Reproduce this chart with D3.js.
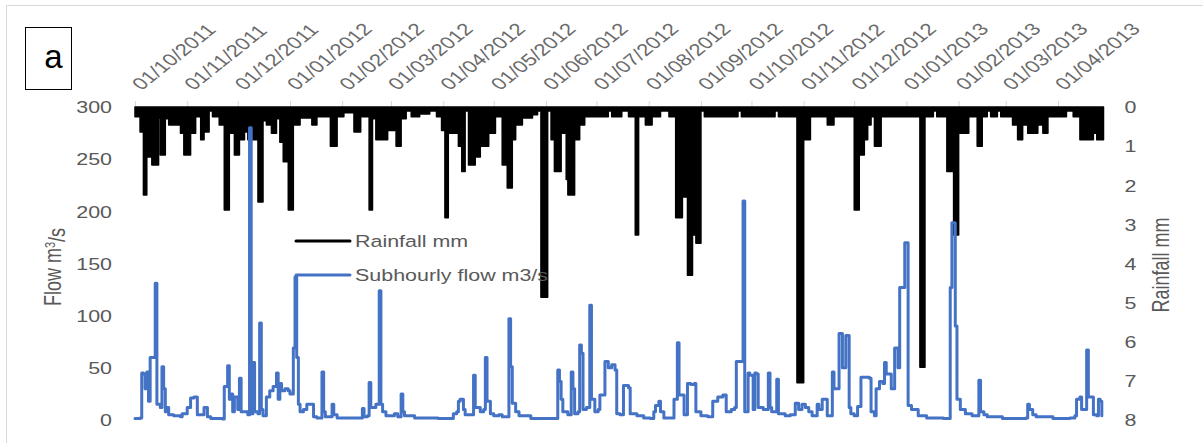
<!DOCTYPE html>
<html>
<head>
<meta charset="utf-8">
<script src="https://cdn.jsdelivr.net/npm/d3@7"></script>
<style>
  html, body { margin: 0; padding: 0; background: #fff; }
  svg { display: block; font-family: "Liberation Sans", Arial, sans-serif; }
</style>
</head>
<body>
<svg id="chart" width="1203" height="443"></svg>
<script>
// ---- Record period and axis ticks ----
const recordSpan = ["2011-10-01", "2013-04-28"];
const monthTicks = [
  "2011-10-01", "2011-11-01", "2011-12-01", "2012-01-01", "2012-02-01", "2012-03-01",
  "2012-04-01", "2012-05-01", "2012-06-01", "2012-07-01", "2012-08-01", "2012-09-01",
  "2012-10-01", "2012-11-01", "2012-12-01", "2013-01-01", "2013-02-01", "2013-03-01",
  "2013-04-01"
];
const flowTicks = [0, 50, 100, 150, 200, 250, 300];
const rainTicks = [0, 1, 2, 3, 4, 5, 6, 7, 8];
const seriesNames = ["Rainfall mm", "Subhourly flow m3/s"];

// ---- Rainfall (mm), each value holds from its date until the next entry ----
const rainfall = [
  ["2011-10-01",0.25],["2011-10-04",0.64],["2011-10-06",2.25],["2011-10-08",1.28],["2011-10-11",1.48],
  ["2011-10-15",0.28],["2011-10-16",1.23],["2011-10-19",0.3],["2011-10-21",0.46],["2011-10-28",0.67],
  ["2011-10-30",1.23],["2011-11-03",0.67],["2011-11-06",0.25],["2011-11-09",0.84],["2011-11-11",0.64],
  ["2011-11-14",0.1],["2011-11-16",0.25],["2011-11-20",0.46],["2011-11-23",2.63],["2011-11-26",0.67],
  ["2011-11-29",1.23],["2011-12-02",0.84],["2011-12-05",0.64],["2011-12-07",0.84],["2011-12-13",2.43],
  ["2011-12-16",0.35],["2011-12-18",0.46],["2011-12-21",0.67],["2011-12-24",0.3],["2011-12-26",0.9],
  ["2011-12-28",1.4],["2011-12-31",2.63],["2012-01-03",0.46],["2012-01-07",0.28],["2012-01-14",0.46],
  ["2012-01-17",0.25],["2012-01-25",1.0],["2012-01-29",0.25],["2012-02-02",0.15],["2012-02-08",0.64],
  ["2012-02-12",0.25],["2012-02-17",2.63],["2012-02-19",0.3],["2012-02-21",0.84],["2012-02-28",0.6],
  ["2012-03-04",1.0],["2012-03-07",0.3],["2012-03-10",0.1],["2012-03-13",0.25],["2012-03-18",0.18],
  ["2012-03-24",0.1],["2012-03-28",0.25],["2012-03-31",0.6],["2012-04-02",2.83],["2012-04-04",0.67],
  ["2012-04-10",1.0],["2012-04-12",1.65],["2012-04-14",0.1],["2012-04-16",1.48],["2012-04-20",1.28],
  ["2012-04-23",1.0],["2012-04-28",0.67],["2012-05-02",0.25],["2012-05-06",1.48],["2012-05-09",2.07],
  ["2012-05-12",0.84],["2012-05-14",0.46],["2012-05-18",0.28],["2012-05-24",0.2],["2012-05-27",0.1],
  ["2012-05-29",4.86],["2012-06-02",0.1],["2012-06-04",0.84],["2012-06-06",1.65],["2012-06-10",0.67],
  ["2012-06-13",1.85],["2012-06-14",2.25],["2012-06-18",0.84],["2012-06-21",0.46],["2012-06-24",0.25],
  ["2012-07-08",0.1],["2012-07-10",0.25],["2012-07-16",0.1],["2012-07-20",0.25],["2012-07-24",3.27],
  ["2012-07-26",0.25],["2012-07-30",0.46],["2012-08-03",0.25],["2012-08-08",0.1],["2012-08-13",0.25],
  ["2012-08-17",2.83],["2012-08-21",2.3],["2012-08-24",4.3],["2012-08-27",3.27],["2012-08-29",3.48],
  ["2012-09-01",0.1],["2012-09-03",0.25],["2012-09-23",0.1],["2012-09-25",0.25],["2012-10-15",0.1],
  ["2012-10-17",0.25],["2012-10-28",7.05],["2012-11-01",0.84],["2012-11-05",0.25],["2012-11-15",0.46],
  ["2012-11-19",0.25],["2012-12-01",2.63],["2012-12-04",1.23],["2012-12-07",0.84],["2012-12-09",0.46],
  ["2012-12-11",0.25],["2012-12-13",1.0],["2012-12-17",0.25],["2013-01-09",6.65],["2013-01-12",0.25],
  ["2013-01-17",0.1],["2013-01-19",0.25],["2013-01-25",1.65],["2013-01-29",3.27],["2013-02-01",0.67],
  ["2013-02-07",0.25],["2013-02-12",1.0],["2013-02-15",0.25],["2013-02-18",0.1],["2013-02-20",0.25],
  ["2013-02-24",0.1],["2013-02-26",0.25],["2013-03-05",0.46],["2013-03-08",0.84],["2013-03-11",0.46],
  ["2013-03-14",0.67],["2013-03-20",0.46],["2013-03-23",0.67],["2013-03-26",0.25],["2013-04-06",0.1],
  ["2013-04-10",0.25],["2013-04-14",0.84],["2013-04-22",0.67],["2013-04-24",0.84],["2013-04-28",0.84]
];

// ---- Flow (m3/s), each value holds from its date until the next entry ----
const flow = [
  ["2011-10-01",1.5],["2011-10-04",2],["2011-10-05",45],["2011-10-06",44],["2011-10-07",30],
  ["2011-10-08",46],["2011-10-09",18],["2011-10-10",60],["2011-10-13",131],["2011-10-14",15],
  ["2011-10-16",12],["2011-10-17",51],["2011-10-18",30],["2011-10-19",8],["2011-10-20",12],
  ["2011-10-21",5],["2011-10-24",4],["2011-10-28",3],["2011-10-29",6],["2011-11-01",12],
  ["2011-11-03",21],["2011-11-05",22],["2011-11-07",5],["2011-11-11",12],["2011-11-13",3],
  ["2011-11-15",1.5],["2011-11-22",1],["2011-11-23",32],["2011-11-25",52],["2011-11-26",20],
  ["2011-11-27",25],["2011-11-28",8],["2011-11-29",22],["2011-12-01",10],["2011-12-02",40],
  ["2011-12-03",8],["2011-12-07",5],["2011-12-08",280],["2011-12-09",6],["2011-12-10",55],
  ["2011-12-11",8],["2011-12-13",6],["2011-12-14",93],["2011-12-15",10],["2011-12-16",4],
  ["2011-12-18",22],["2011-12-20",28],["2011-12-22",32],["2011-12-24",45],["2011-12-25",20],
  ["2011-12-26",35],["2011-12-27",28],["2011-12-29",30],["2011-12-31",28],["2012-01-01",25],
  ["2012-01-03",69],["2012-01-04",137],["2012-01-05",60],["2012-01-06",15],["2012-01-07",8],
  ["2012-01-09",10],["2012-01-11",15],["2012-01-13",15],["2012-01-15",3],["2012-01-17",2],
  ["2012-01-19",2],["2012-01-20",46],["2012-01-21",8],["2012-01-22",3],["2012-01-25",3],
  ["2012-01-26",15],["2012-01-27",5],["2012-01-29",2],["2012-02-12",2],["2012-02-13",11],
  ["2012-02-14",3],["2012-02-16",4],["2012-02-17",36],["2012-02-18",12],["2012-02-21",15],
  ["2012-02-23",124],["2012-02-24",15],["2012-02-25",8],["2012-02-27",4],["2012-03-01",4],
  ["2012-03-03",6],["2012-03-05",3],["2012-03-07",25],["2012-03-08",8],["2012-03-09",4],
  ["2012-03-13",4],["2012-03-15",2],["2012-03-29",1.5],["2012-04-04",1.5],["2012-04-07",6],
  ["2012-04-09",8],["2012-04-10",18],["2012-04-11",20],["2012-04-13",10],["2012-04-14",5],
  ["2012-04-17",5],["2012-04-19",43],["2012-04-20",12],["2012-04-22",12],["2012-04-23",8],
  ["2012-04-25",10],["2012-04-26",60],["2012-04-27",18],["2012-04-28",18],["2012-04-29",6],
  ["2012-05-01",4],["2012-05-04",5],["2012-05-06",3],["2012-05-08",3],["2012-05-10",97],
  ["2012-05-11",51],["2012-05-12",16],["2012-05-14",8],["2012-05-16",4],["2012-05-23",1.5],
  ["2012-06-02",1.5],["2012-06-07",1.5],["2012-06-08",48],["2012-06-09",37],["2012-06-10",20],
  ["2012-06-11",8],["2012-06-14",5],["2012-06-16",46],["2012-06-17",30],["2012-06-18",6],
  ["2012-06-20",8],["2012-06-21",72],["2012-06-22",64],["2012-06-23",10],["2012-06-25",12],
  ["2012-06-27",110],["2012-06-28",20],["2012-06-30",8],["2012-07-02",10],["2012-07-03",24],
  ["2012-07-06",56],["2012-07-08",50],["2012-07-10",53],["2012-07-12",48],["2012-07-13",6],
  ["2012-07-15",5],["2012-07-17",33],["2012-07-20",31],["2012-07-21",6],["2012-07-25",4],
  ["2012-07-29",2],["2012-08-02",1.5],["2012-08-04",8],["2012-08-05",14],["2012-08-07",18],
  ["2012-08-08",8],["2012-08-10",2],["2012-08-14",2],["2012-08-16",20],["2012-08-18",74],
  ["2012-08-19",24],["2012-08-20",24],["2012-08-22",5],["2012-08-24",35],["2012-08-26",34],
  ["2012-08-28",35],["2012-08-29",8],["2012-09-01",4],["2012-09-05",3],["2012-09-08",18],
  ["2012-09-11",22],["2012-09-14",24],["2012-09-16",8],["2012-09-19",10],["2012-09-21",12],
  ["2012-09-22",56],["2012-09-25",56],["2012-09-26",210],["2012-09-27",8],["2012-09-29",45],
  ["2012-09-30",43],["2012-10-02",10],["2012-10-03",45],["2012-10-04",44],["2012-10-05",12],
  ["2012-10-08",10],["2012-10-11",45],["2012-10-12",12],["2012-10-13",8],["2012-10-16",39],
  ["2012-10-17",6],["2012-10-21",4],["2012-10-24",5],["2012-10-27",16],["2012-10-29",10],
  ["2012-10-31",15],["2012-11-02",12],["2012-11-04",8],["2012-11-06",4],["2012-11-09",15],
  ["2012-11-10",10],["2012-11-12",20],["2012-11-14",20],["2012-11-15",4],["2012-11-17",4],
  ["2012-11-18",46],["2012-11-19",30],["2012-11-22",83],["2012-11-24",50],["2012-11-26",81],
  ["2012-11-27",81],["2012-11-28",12],["2012-11-29",6],["2012-12-01",4],["2012-12-03",13],
  ["2012-12-05",41],["2012-12-08",41],["2012-12-10",40],["2012-12-11",8],["2012-12-13",4],
  ["2012-12-14",30],["2012-12-16",37],["2012-12-18",35],["2012-12-19",55],["2012-12-20",44],
  ["2012-12-22",44],["2012-12-23",30],["2012-12-25",69],["2012-12-27",50],["2012-12-28",127],
  ["2012-12-30",127],["2012-12-31",170],["2013-01-01",170],["2013-01-02",14],["2013-01-04",10],
  ["2013-01-08",4],["2013-01-13",2],["2013-01-23",1.5],["2013-01-26",1.5],["2013-01-27",127],
  ["2013-01-28",189],["2013-01-29",189],["2013-01-30",90],["2013-01-31",20],["2013-02-02",10],
  ["2013-02-05",6],["2013-02-09",4],["2013-02-12",4],["2013-02-13",38],["2013-02-14",8],
  ["2013-02-16",5],["2013-02-18",3],["2013-02-27",1.5],["2013-03-09",1.5],["2013-03-13",2],
  ["2013-03-14",15],["2013-03-15",10],["2013-03-17",5],["2013-03-19",3],["2013-03-29",1.5],
  ["2013-04-08",2],["2013-04-11",4],["2013-04-12",20],["2013-04-14",22],["2013-04-15",10],
  ["2013-04-17",10],["2013-04-18",67],["2013-04-19",22],["2013-04-20",22],["2013-04-22",5],
  ["2013-04-24",4],["2013-04-25",20],["2013-04-26",18],["2013-04-27",4]
];

// ---- Layout ----
const plot = { left: 135, right: 1103.5, top: 107, bottom: 420 };
const stretch = 1.3;          // horizontal glyph widening used for all chart text
const textGrey = "#595959";
const flowBlue = "#4472C4";

const parse = d3.utcParse("%Y-%m-%d");
const x = d3.scaleUtc().domain(recordSpan.map(parse)).range([plot.left, plot.right]);
const yFlow = d3.scaleLinear().domain([0, 300]).range([plot.bottom, plot.top]);
const yRain = d3.scaleLinear().domain([0, 8]).range([plot.top, plot.bottom]);

const svg = d3.select("#chart");

// outer chart frame (top and left edges)
svg.append("line").attr("x1", 6).attr("x2", 1203).attr("y1", 5.5).attr("y2", 5.5)
  .attr("stroke", "#d9d9d9");
svg.append("line").attr("x1", 6.5).attr("x2", 6.5).attr("y1", 5).attr("y2", 443)
  .attr("stroke", "#d9d9d9");

// panel letter
svg.append("rect").attr("x", 25.5).attr("y", 27.5).attr("width", 46).attr("height", 62)
  .attr("fill", "#fff").attr("stroke", "#000").attr("stroke-width", 1);
svg.append("text").attr("x", 53.5).attr("y", 68).attr("text-anchor", "middle")
  .style("font-size", "33px").attr("fill", "#000").text("a");

// ---- Date axis along the top ----
const gx = svg.append("g")
  .attr("transform", `translate(0,${plot.top})`)
  .call(d3.axisTop(x)
    .tickValues(monthTicks.map(parse))
    .tickFormat(d3.utcFormat("%d/%m/%Y"))
    .tickSize(6).tickSizeOuter(0));
gx.attr("font-family", null).attr("font-size", null);
gx.select(".domain").attr("stroke", "#d9d9d9");
gx.selectAll(".tick line").attr("stroke", "#d9d9d9");
gx.selectAll(".tick text")
  .attr("x", 0).attr("y", 0).attr("dy", null)
  .attr("text-anchor", "start")
  .attr("transform", `translate(6,-16) scale(${stretch},1) rotate(-46)`)
  .attr("fill", "#6a6a6a")
  .style("font-size", "17px");

// ---- Left axis: flow ----
const gl = svg.append("g")
  .attr("transform", `translate(${plot.left},0)`)
  .call(d3.axisLeft(yFlow).tickValues(flowTicks).tickSize(0));
gl.attr("font-family", null).attr("font-size", null);
gl.select(".domain").remove();
gl.selectAll(".tick text")
  .attr("x", 0).attr("dy", "0.35em").attr("text-anchor", "end")
  .attr("transform", `translate(-23,0) scale(${stretch},1)`)
  .attr("fill", textGrey).style("font-size", "16.5px");

// ---- Right axis: rainfall (reversed) ----
const gr = svg.append("g")
  .attr("transform", `translate(${plot.right},0)`)
  .call(d3.axisRight(yRain).tickValues(rainTicks).tickSize(0));
gr.attr("font-family", null).attr("font-size", null);
gr.select(".domain").remove();
gr.selectAll(".tick text")
  .attr("x", 0).attr("dy", "0.35em").attr("text-anchor", "start")
  .attr("transform", `translate(21,0) scale(${stretch},1)`)
  .attr("fill", textGrey).style("font-size", "16.5px");

// axis titles
const leftTitle = svg.append("text")
  .attr("transform", `translate(61,267) scale(${stretch},1) rotate(-90)`)
  .attr("text-anchor", "middle").attr("fill", textGrey).style("font-size", "18px");
leftTitle.append("tspan").text("Flow m");
leftTitle.append("tspan").attr("dy", "-0.45em").style("font-size", "11px").text("3");
leftTitle.append("tspan").attr("dy", "0.45em").text("/s");

svg.append("text")
  .attr("transform", `translate(1169,265) scale(${stretch},1) rotate(-90)`)
  .attr("text-anchor", "middle").attr("fill", textGrey).style("font-size", "18px")
  .text("Rainfall mm");

// ---- Rainfall hanging from the top ----
const rainPts = rainfall.map(([d, v]) => ({ date: parse(d), v }));
svg.append("path")
  .datum(rainPts)
  .attr("d", d3.area()
    .curve(d3.curveStepAfter)
    .x(d => x(d.date))
    .y0(yRain(0))
    .y1(d => yRain(d.v)))
  .attr("fill", "#000")
  .attr("stroke", "#000")
  .attr("stroke-width", 1.5)
  .attr("stroke-linejoin", "round");

// ---- Flow line ----
const flowPts = flow.map(([d, v]) => ({ date: parse(d), v }));
svg.append("path")
  .datum(flowPts)
  .attr("d", d3.line().curve(d3.curveStepAfter).x(d => x(d.date)).y(d => yFlow(d.v)))
  .attr("fill", "none")
  .attr("stroke", flowBlue)
  .attr("stroke-width", 3)
  .attr("stroke-linejoin", "round")
  .attr("stroke-linecap", "round");

// ---- Legend ----
const legendRows = [
  { name: seriesNames[0], color: "#000", y: 241 },
  { name: seriesNames[1], color: flowBlue, y: 275 }
];
const lg = svg.append("g");
lg.selectAll("line").data(legendRows).join("line")
  .attr("x1", 296).attr("x2", 350)
  .attr("y1", d => d.y).attr("y2", d => d.y)
  .attr("stroke", d => d.color).attr("stroke-width", 3).attr("stroke-linecap", "round");
lg.selectAll("text").data(legendRows).join("text")
  .attr("transform", d => `translate(355,${d.y}) scale(${stretch},1)`)
  .attr("dy", "0.35em")
  .attr("fill", textGrey).style("font-size", "16.5px")
  .text(d => d.name);
</script>
</body>
</html>
